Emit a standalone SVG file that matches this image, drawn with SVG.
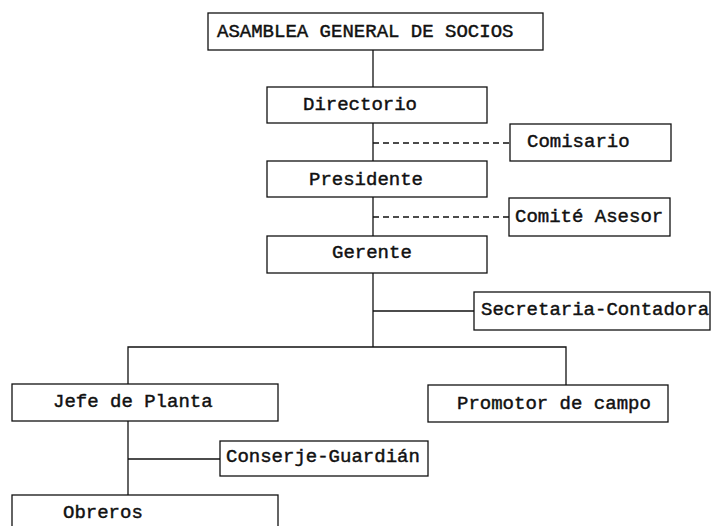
<svg xmlns="http://www.w3.org/2000/svg" width="711" height="526" viewBox="0 0 711 526">
<style>
.box{fill:#fff;stroke:#111;stroke-width:1.3}
.t{font-family:"Liberation Mono","Courier New",monospace;font-size:19px;fill:#111;stroke:#111;stroke-width:0.45}
.ln{stroke:#111;stroke-width:1.3;fill:none}
.dash{stroke-dasharray:6,4}
</style>
<rect width="711" height="526" fill="#fff"/>
<g id="connectors">
<line class="ln" x1="373" y1="50" x2="373" y2="87"/>
<line class="ln" x1="373" y1="123" x2="373" y2="161"/>
<line class="ln dash" x1="373" y1="143" x2="510" y2="143"/>
<line class="ln" x1="373" y1="197" x2="373" y2="236"/>
<line class="ln dash" x1="373" y1="217" x2="509" y2="217"/>
<line class="ln" x1="373" y1="273" x2="373" y2="347"/>
<line class="ln" x1="373" y1="311" x2="474" y2="311"/>
<polyline class="ln" points="128,384 128,347 566,347 566,385"/>
<line class="ln" x1="128" y1="421" x2="128" y2="495"/>
<line class="ln" x1="128" y1="459" x2="220" y2="459"/>
</g>
<g id="asamblea"><rect class="box" x="208" y="13" width="335" height="37"/><text class="t" x="217" y="37">ASAMBLEA GENERAL DE SOCIOS</text></g>
<g id="directorio"><rect class="box" x="267" y="87" width="220" height="36"/><text class="t" x="303" y="110">Directorio</text></g>
<g id="comisario"><rect class="box" x="510" y="124" width="161" height="37"/><text class="t" x="527" y="147">Comisario</text></g>
<g id="presidente"><rect class="box" x="267" y="161" width="220" height="36"/><text class="t" x="309" y="185">Presidente</text></g>
<g id="comite"><rect class="box" x="509" y="198" width="161" height="38"/><text class="t" x="515" y="222">Comité Asesor</text></g>
<g id="gerente"><rect class="box" x="267" y="236" width="220" height="37"/><text class="t" x="332" y="258">Gerente</text></g>
<g id="secretaria"><rect class="box" x="474" y="292" width="236" height="38"/><text class="t" x="481" y="315">Secretaria-Contadora</text></g>
<g id="jefe"><rect class="box" x="12" y="384" width="266" height="37"/><text class="t" x="53" y="407">Jefe de Planta</text></g>
<g id="promotor"><rect class="box" x="428" y="385" width="240" height="37"/><text class="t" x="457" y="409">Promotor de campo</text></g>
<g id="conserje"><rect class="box" x="220" y="441" width="208" height="35"/><text class="t" x="226" y="462">Conserje-Guardián</text></g>
<g id="obreros"><rect class="box" x="12" y="495" width="266" height="40"/><text class="t" x="63" y="518">Obreros</text></g>
</svg>
